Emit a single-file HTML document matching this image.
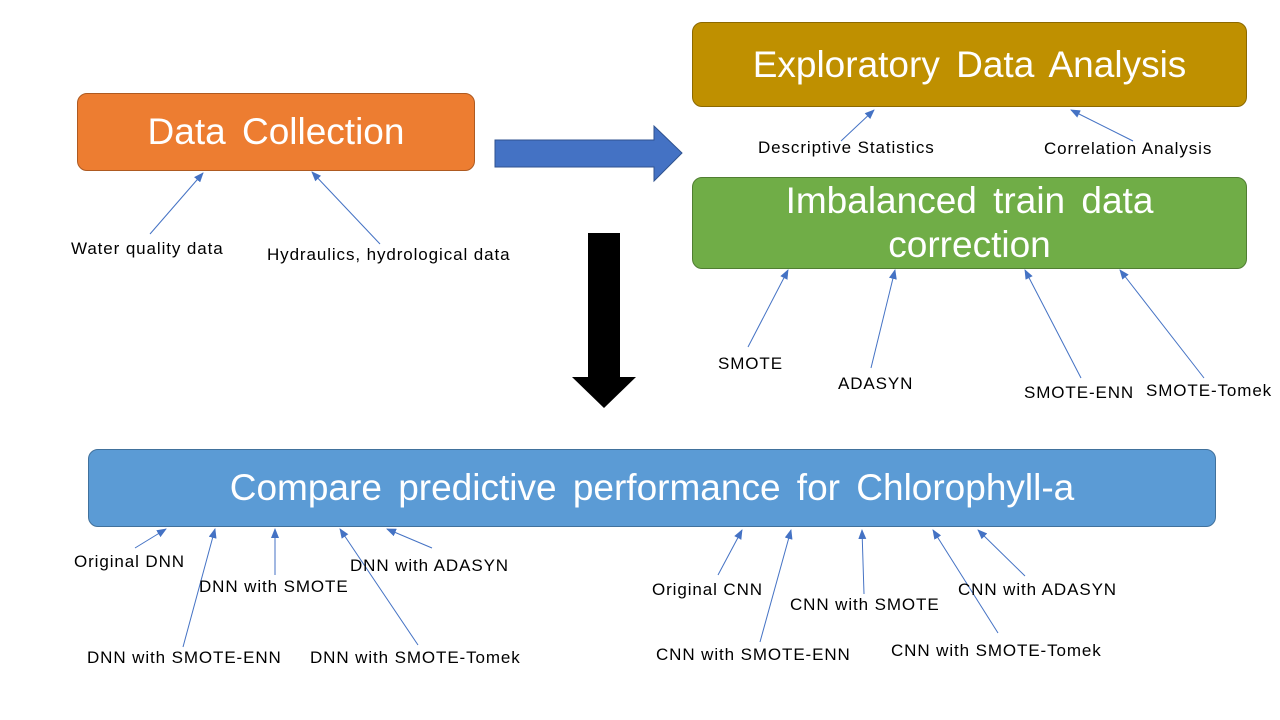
<!DOCTYPE html>
<html><head><meta charset="utf-8"><style>
body{margin:0;width:1280px;height:720px;background:#fff;position:relative;overflow:hidden;font-family:"Liberation Sans","Noto Sans CJK KR",sans-serif;}
.box{position:absolute;border-radius:10px;color:#fff;display:flex;align-items:center;justify-content:center;text-align:center;font-size:37px;line-height:44px;word-spacing:6px;box-sizing:border-box;}
.l{position:absolute;font-size:17px;color:#000;white-space:nowrap;line-height:20px;letter-spacing:0.9px;}
svg{position:absolute;left:0;top:0;}
</style></head><body>
<div class="box" style="left:77px;top:93px;width:398px;height:78px;background:#ED7D31;border:1px solid #AE5A21;">Data Collection</div>
<div class="box" style="left:692px;top:22px;width:555px;height:85px;background:#BF9000;border:1px solid #8C6900;">Exploratory Data Analysis</div>
<div class="box" style="left:692px;top:177px;width:555px;height:92px;background:#70AD47;border:1px solid #507E32;">Imbalanced train data<br>correction</div>
<div class="box" style="left:88px;top:449px;width:1128px;height:78px;background:#5B9BD5;border:1px solid #41719C;">Compare predictive performance for Chlorophyll-a</div>
<svg width="1280" height="720">
<defs><marker id="a" markerWidth="10" markerHeight="8" refX="9" refY="4" orient="auto" markerUnits="userSpaceOnUse"><path d="M0,0 L10,4 L0,8 z" fill="#4472C4"/></marker></defs>
<polygon points="495,140 654,140 654,126 682,153 654,181 654,167 495,167" fill="#4472C4" stroke="#2F528F" stroke-width="1"/>
<polygon points="588,233 620,233 620,377 636,377 604,408 572,377 588,377" fill="#000"/>
<g stroke="#4472C4" stroke-width="1" marker-end="url(#a)">
<line x1="150" y1="234" x2="203" y2="173"/>
<line x1="380" y1="244" x2="312" y2="172"/>
<line x1="841" y1="141" x2="874" y2="110"/>
<line x1="1133" y1="141" x2="1071" y2="110"/>
<line x1="748" y1="347" x2="788" y2="270"/>
<line x1="871" y1="368" x2="895" y2="270"/>
<line x1="1081" y1="378" x2="1025" y2="270"/>
<line x1="1204" y1="378" x2="1120" y2="270"/>
<line x1="135" y1="548" x2="166" y2="529"/>
<line x1="183" y1="647" x2="215" y2="529"/>
<line x1="275" y1="575" x2="275" y2="529"/>
<line x1="418" y1="645" x2="340" y2="529"/>
<line x1="432" y1="548" x2="387" y2="529"/>
<line x1="718" y1="575" x2="742" y2="530"/>
<line x1="760" y1="642" x2="791" y2="530"/>
<line x1="864" y1="594" x2="862" y2="530"/>
<line x1="998" y1="633" x2="933" y2="530"/>
<line x1="1025" y1="576" x2="978" y2="530"/>
</g></svg>
<div class="l" style="left:71px;top:239px;">Water quality data</div>
<div class="l" style="left:267px;top:245px;">Hydraulics, hydrological data</div>
<div class="l" style="left:758px;top:138px;">Descriptive Statistics</div>
<div class="l" style="left:1044px;top:139px;">Correlation Analysis</div>
<div class="l" style="left:718px;top:354px;">SMOTE</div>
<div class="l" style="left:838px;top:374px;">ADASYN</div>
<div class="l" style="left:1024px;top:383px;">SMOTE-ENN</div>
<div class="l" style="left:1146px;top:381px;">SMOTE-Tomek</div>
<div class="l" style="left:74px;top:552px;">Original DNN</div>
<div class="l" style="left:199px;top:577px;">DNN with SMOTE</div>
<div class="l" style="left:350px;top:556px;">DNN with ADASYN</div>
<div class="l" style="left:87px;top:648px;">DNN with SMOTE-ENN</div>
<div class="l" style="left:310px;top:648px;">DNN with SMOTE-Tomek</div>
<div class="l" style="left:652px;top:580px;">Original CNN</div>
<div class="l" style="left:790px;top:595px;">CNN with SMOTE</div>
<div class="l" style="left:958px;top:580px;">CNN with ADASYN</div>
<div class="l" style="left:656px;top:645px;">CNN with SMOTE-ENN</div>
<div class="l" style="left:891px;top:641px;">CNN with SMOTE-Tomek</div>
</body></html>
